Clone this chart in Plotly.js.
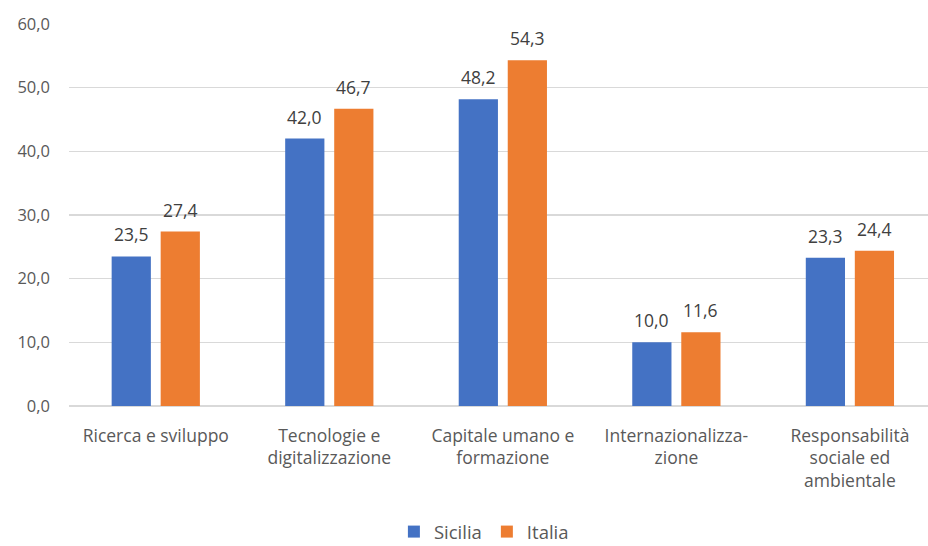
<!DOCTYPE html>
<html>
<head>
<meta charset="utf-8">
<script src="https://cdn.plot.ly/plotly-3.0.1.min.js"></script>
<style>html,body{margin:0;padding:0;background:#fff;}#chart{width:928px;height:546px;}</style>
</head>
<body>
<div id="chart"></div>
<script>
const categories = ["Ricerca e sviluppo", "Tecnologie e<br>digitalizzazione", "Capitale umano e<br>formazione", "Internazionalizza-<br>zione", "Responsabilità<br>sociale ed<br>ambientale"];
const sicilia = [23.5, 42.0, 48.2, 10.0, 23.3];
const italia = [27.4, 46.7, 54.3, 11.6, 24.4];
const seriesNames = ["Sicilia", "Italia"];
const colors = ["#4472C4", "#ED7D31"];
const yTicks = [0, 10, 20, 30, 40, 50, 60];

const idx = categories.map((_, i) => i);
const font = "'Open Sans', Lato, sans-serif";

const traces = [sicilia, italia].map((vals, k) => ({
  type: "bar",
  name: seriesNames[k],
  x: idx,
  y: vals,
  marker: {color: colors[k]},
  hoverinfo: "none"
}));

const annotations = [];
[sicilia, italia].forEach((vals, k) => {
  vals.forEach((v, i) => {
    annotations.push({
      x: i, y: v, xref: "x", yref: "y",
      text: v.toFixed(1).replace(".", ","),
      showarrow: false,
      xanchor: "center", yanchor: "bottom",
      xshift: k === 0 ? -24.5 : 24.5,
      yshift: 8,
      font: {family: font, size: 17.5, color: "#404040"}
    });
  });
});

const layout = {
  width: 928, height: 546,
  margin: {l: 69, r: 0, t: 24, b: 140, autoexpand: false},
  paper_bgcolor: "#fff", plot_bgcolor: "#fff",
  separators: ",.",
  barmode: "group",
  bargap: 0.435,
  bargroupgap: 0.2,
  showlegend: true,
  legend: {
    orientation: "h", x: 0.483, xanchor: "center", y: -0.33, yanchor: "middle",
    font: {family: font, size: 18.5, color: "#595959"},
    itemwidth: 30, traceorder: "normal"
  },
  xaxis: {
    automargin: false,
    range: [-0.5, 4.45],
    tickvals: idx, ticktext: categories,
    showgrid: false, zeroline: false, showline: false, ticks: "",
    tickfont: {family: font, size: 17.5, color: "#595959"},
    ticklabelstandoff: 17
  },
  yaxis: {
    automargin: false,
    range: [0, 60],
    tickvals: yTicks,
    tickformat: ".1f",
    showgrid: true, gridcolor: "#d9d9d9", gridwidth: 1.2,
    zeroline: true, zerolinecolor: "#d9d9d9", zerolinewidth: 1.2,
    showline: false, ticks: "",
    tickfont: {family: font, size: 16.5, color: "#595959"},
    ticklabelstandoff: 18
  },
  annotations: annotations
};

Plotly.newPlot("chart", traces, layout, {staticPlot: true, displayModeBar: false});
</script>
</body>
</html>
